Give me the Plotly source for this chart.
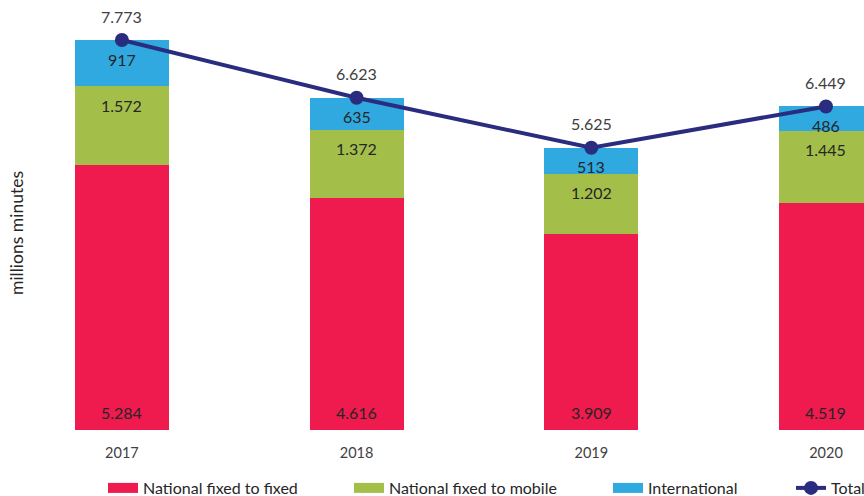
import plotly.graph_objects as go

years = ["2017", "2018", "2019", "2020"]
fixed_to_fixed = [5284, 4616, 3909, 4519]
fixed_to_mobile = [1572, 1372, 1202, 1445]
international = [917, 635, 513, 486]
total = [7773, 6623, 5625, 6449]

RED = "#EF1A4E"
GREEN = "#A3BF4A"
BLUE = "#2FA9E0"
NAVY = "#2A2C7F"
FONT = "Lato"
TXT = "#262626"


def fmt(v):
    return f"{v:,}".replace(",", ".")


fig = go.Figure()
series = [
    ("National fixed to fixed", fixed_to_fixed, RED, "legend"),
    ("National fixed to mobile", fixed_to_mobile, GREEN, "legend2"),
    ("International", international, BLUE, "legend3"),
]
for name, vals, col, lg in series:
    fig.add_trace(go.Bar(x=years, y=vals, name=name, marker=dict(color=col, line=dict(width=0)),
                         width=0.4, showlegend=False, hoverinfo="x+y+name"))
    # legend proxy (wide swatch like the original)
    fig.add_trace(go.Scatter(x=[None], y=[None], mode="lines", name=name,
                             line=dict(color=col, width=10), legend=lg, hoverinfo="skip"))

fig.add_trace(go.Scatter(x=years, y=total, name="Total", mode="lines+markers",
                         line=dict(color=NAVY, width=4), marker=dict(color=NAVY, size=14),
                         cliponaxis=False, legend="legend4"))

annotations = []
cum = [0, 0, 0, 0]
for idx, (name, vals, col, lg) in enumerate(series):
    for i, y in enumerate(years):
        cum[i] += vals[i]
        if idx == 0:
            annotations.append(dict(x=i, y=0, text=fmt(vals[i]), showarrow=False, yshift=18,
                                    yanchor="middle", font=dict(size=16, color=TXT, family=FONT)))
        else:
            annotations.append(dict(x=i, y=cum[i], text=fmt(vals[i]), showarrow=False, yshift=-19,
                                    yanchor="middle", font=dict(size=16, color=TXT, family=FONT)))
for i, y in enumerate(years):
    annotations.append(dict(x=i, y=total[i], text=fmt(total[i]), showarrow=False, yshift=24,
                            yanchor="middle", font=dict(size=16, color="#404040", family=FONT)))

leg_common = dict(orientation="h", xref="container", yref="container", yanchor="middle",
                  xanchor="left", y=1 - 488 / 496, bgcolor="rgba(0,0,0,0)",
                  font=dict(size=16, color=TXT, family=FONT), borderwidth=0)

fig.update_layout(
    width=864, height=496,
    margin=dict(l=40, r=0, t=36, b=66, autoexpand=False),
    barmode="stack",
    plot_bgcolor="white", paper_bgcolor="white",
    separators=",.",
    font=dict(family=FONT, color=TXT),
    annotations=annotations,
    legend=dict(x=103 / 864, **leg_common),
    legend2=dict(x=349 / 864, **leg_common),
    legend3=dict(x=608 / 864, **leg_common),
    legend4=dict(x=791 / 864, **leg_common),
    xaxis=dict(type="category", range=[-0.349, 3.162], showgrid=False, showline=False,
               zeroline=False, ticks="", ticklabelstandoff=12,
               tickfont=dict(size=14.5, color="#404040", family=FONT)),
    yaxis=dict(range=[0, 7773 * 394 / 390], showgrid=False, zeroline=False, showline=False,
               showticklabels=False, ticks="",
               title=dict(text="millions minutes", standoff=10,
                          font=dict(size=17.5, color=TXT, family=FONT))),
)

fig.write_html("out.html", config={"displayModeBar": False},
               post_script="document.body.style.margin='0';")
